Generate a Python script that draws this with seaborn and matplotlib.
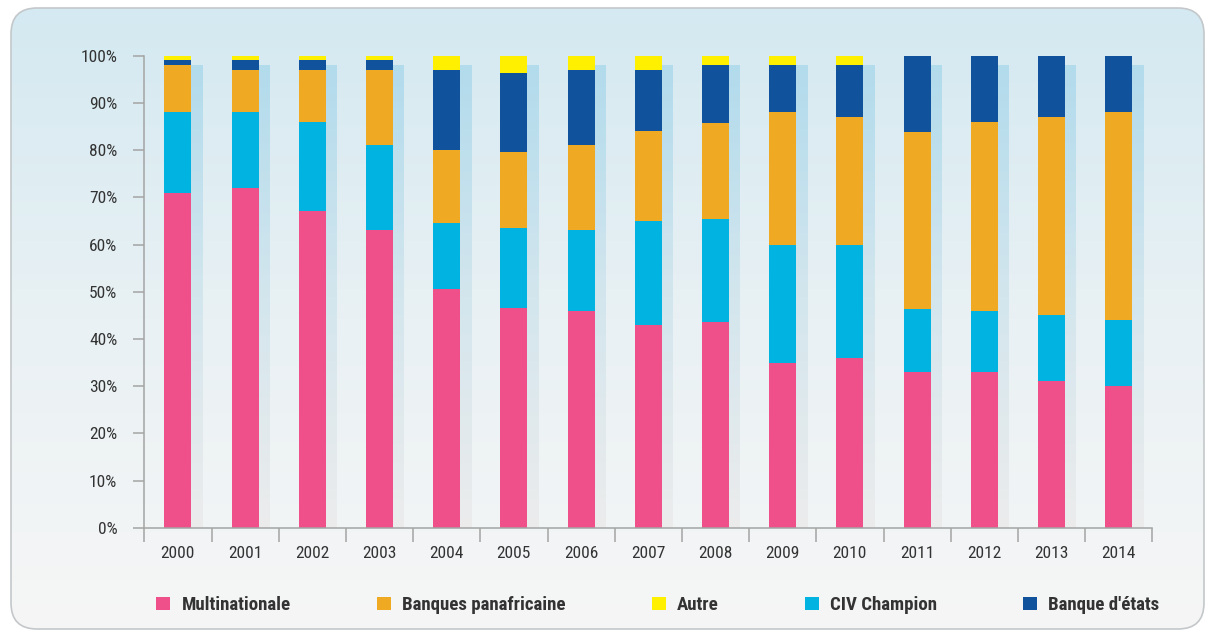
import numpy as np
import matplotlib
matplotlib.use("Agg")
import matplotlib.pyplot as plt
from matplotlib import font_manager as fm
from matplotlib.colors import LinearSegmentedColormap
from matplotlib.patches import FancyBboxPatch, Patch
import seaborn as sns

# data (% of total)
years = [str(y) for y in range(2000, 2015)]
multinationale = [71, 72, 67, 63, 50.5, 46.5, 46, 43, 43.5, 35, 36, 33, 33, 31, 30]
civ_champion = [17, 16, 19, 18, 14, 17, 17, 22, 22, 25, 24, 13.4, 13, 14, 14]
banques_panaf = [10, 9, 11, 16, 15.5, 16, 18, 19, 20.3, 28, 27, 37.5, 40, 42, 44]
banque_etats = [1, 2, 2, 2, 17, 16.8, 16, 13, 12.2, 10, 11, 16.1, 14, 13, 12]
autre = [1, 1, 1, 1, 3, 3.7, 3, 3, 2, 2, 2, 0, 0, 0, 0]

yticks = list(range(0, 101, 10))
ytick_labels = [f"{t}%" for t in yticks]

# stacking order bottom -> top
layers = [
    ("Multinationale", multinationale, "#ef5089"),
    ("CIV Champion", civ_champion, "#00b3e0"),
    ("Banques panafricaine", banques_panaf, "#f0a922"),
    ("Banque d'états", banque_etats, "#10529c"),
    ("Autre", autre, "#fff000"),
]
legend_order = ["Multinationale", "Banques panafricaine", "Autre", "CIV Champion", "Banque d'états"]

SHADOW_TOP = 98
BAR_W = 0.4
SHADOW_OFF = 0.17

sns.set_style("white")
plt.rcParams["font.family"] = ["DejaVu Sans"]
TXT = "#333333"
GREY = "#a4a4a4"


def condensed_font(bold):
    # look for an installed narrow / condensed sans face
    prefs = ["Liberation Sans Narrow", "Roboto Condensed", "Open Sans Condensed",
             "Noto Sans", "Roboto", "Open Sans", "DejaVu Sans"]
    found = {}
    for f in fm.fontManager.ttflist:
        narrow = (str(f.stretch) in ("condensed", "semi-condensed", "extra-condensed", "ultra-condensed")
                  or "Narrow" in f.name or "Condensed" in f.name
                  or "Narrow" in f.fname or "Condensed" in f.fname)
        if not narrow or f.style != "normal":
            continue
        w = f.weight if isinstance(f.weight, int) else fm.weight_dict.get(f.weight, 400)
        if (w >= 600) != bold or (not bold and w < 350) or (bold and w > 800):
            continue
        fam = next((p for p in prefs if f.name.startswith(p)), None)
        if fam is not None and fam not in found:
            found[fam] = f.fname
    for p in prefs:
        if p in found:
            return fm.FontProperties(fname=found[p]), True
    return fm.FontProperties(family="DejaVu Sans", weight="bold" if bold else "normal"), False


fp_reg, narrow_reg = condensed_font(False)
fp_bold, narrow_bold = condensed_font(True)
fp_reg.set_size(12.5 if narrow_reg else 10.5)
fp_bold.set_size(13.6 if narrow_bold else 10)

W, H = 1210, 634
fig = plt.figure(figsize=(W / 100, H / 100), dpi=100)
fig.patch.set_facecolor("white")

# rounded panel with vertical gradient
bg = fig.add_axes([0, 0, 1, 1], zorder=-10)
bg.set_xlim(0, W)
bg.set_ylim(H, 0)
bg.axis("off")
panel = FancyBboxPatch((11, 8), 1193, 621, boxstyle="round,pad=0,rounding_size=26",
                       facecolor="none", edgecolor="#c4c8ca", lw=1.2, zorder=3)
bg.add_patch(panel)
panel_cmap = LinearSegmentedColormap.from_list("panel", ["#d4e9f1", "#e9f1f4", "#f6f6f6"])
grad = np.linspace(0, 1, 256).reshape(-1, 1)
im = bg.imshow(grad, cmap=panel_cmap, extent=(11, 1204, 629, 8), aspect="auto", zorder=1)
im.set_clip_path(panel)

ax = fig.add_axes([144.3 / W, 1 - 527.7 / H, 1008 / W, 472 / H])
ax.set_facecolor("none")

# light shadow bars behind each column
shadow_cmap = LinearSegmentedColormap.from_list("shadow", ["#ececec", "#d3e6ee", "#b2dbec"])
for i in range(len(years)):
    x0 = i + SHADOW_OFF - BAR_W / 2
    ax.imshow(grad, cmap=shadow_cmap, origin="lower", aspect="auto",
              extent=(x0, x0 + BAR_W, 0, SHADOW_TOP), zorder=0.5)

# stacked bars: draw cumulative totals from the top layer down
cum = np.cumsum([np.array(v, dtype=float) for _, v, _ in layers], axis=0)
for k in range(len(layers) - 1, -1, -1):
    name, _, col = layers[k]
    sns.barplot(x=years, y=cum[k], color=col, saturation=1, width=BAR_W,
                linewidth=0, ax=ax, zorder=2)

ax.set_xlim(-0.5, len(years) - 0.5)
ax.set_ylim(0, 100)
ax.set_yticks(yticks)
ax.set_yticklabels(ytick_labels, fontproperties=fp_reg, color=TXT)
ax.set_xticks(range(len(years)))
ax.set_xticklabels(years, fontproperties=fp_reg, color=TXT)
ax.set_xlabel("")
ax.set_ylabel("")

for s in ["top", "right"]:
    ax.spines[s].set_visible(False)
for s in ["left", "bottom"]:
    ax.spines[s].set_color(GREY)
    ax.spines[s].set_linewidth(1.1)

ax.tick_params(axis="y", direction="out", length=8, width=1.1, color=GREY, pad=11.5, left=True)
ax.tick_params(axis="x", which="major", length=0, pad=13, bottom=True)
ax.set_xticks(np.arange(-0.5, len(years)), minor=True)
ax.tick_params(axis="x", which="minor", direction="out", length=10, width=1.1, color=GREY, bottom=True)

colors = {n: c for n, _, c in layers}
handles = [Patch(facecolor=colors[n], edgecolor="none") for n in legend_order]
fs = fp_bold.get_size_in_points()
leg = fig.legend(handles, legend_order, loc="center", bbox_to_anchor=(657.7 / W, 1 - 605 / H),
                 ncol=5, frameon=False, handlelength=10.1 / fs, handleheight=10.1 / fs,
                 handletextpad=8 / fs, columnspacing=62 / fs, prop=fp_bold)
for t in leg.get_texts():
    t.set_color(TXT)

fig.savefig("out.png", dpi=100)
